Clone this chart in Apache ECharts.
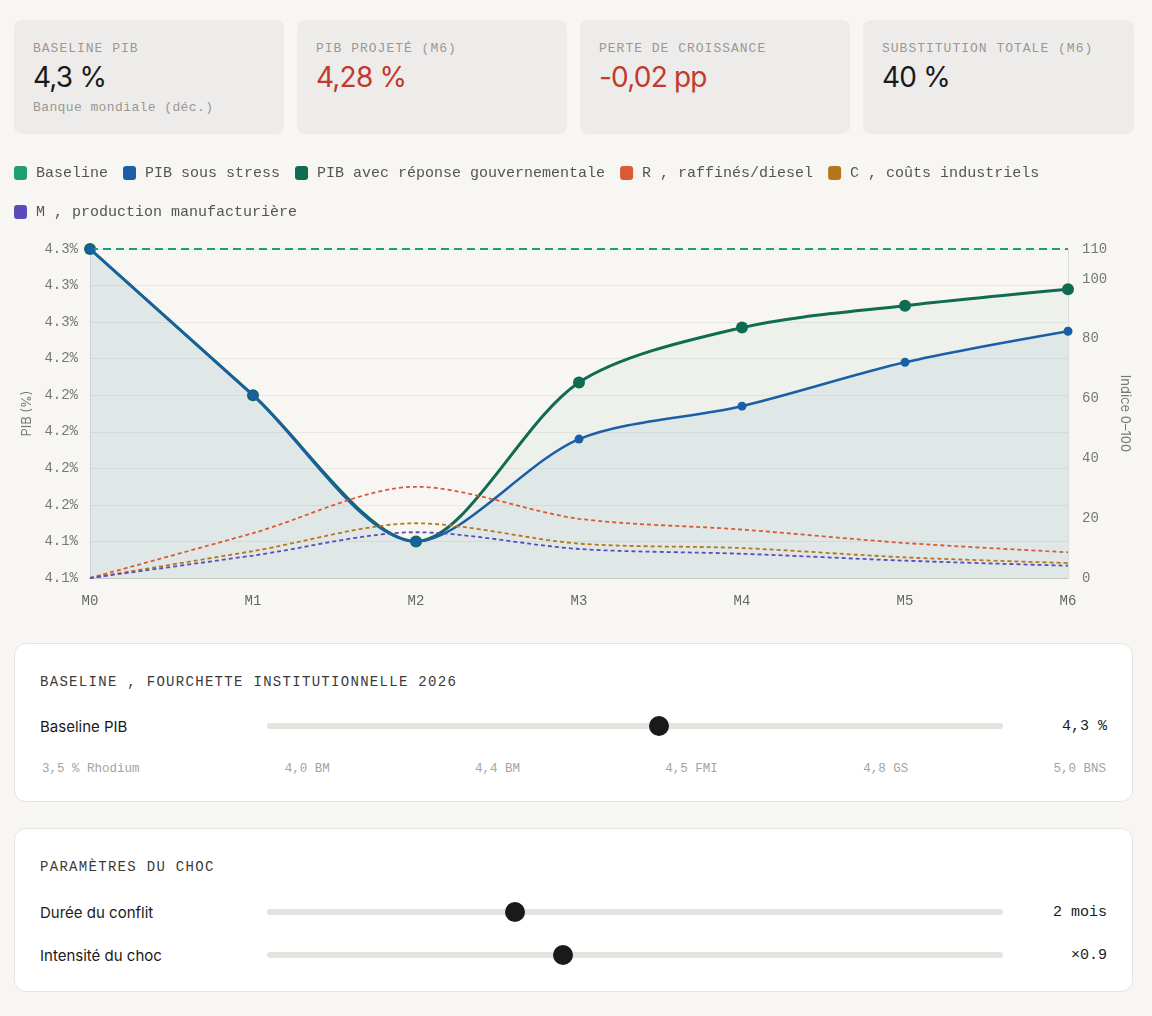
<!DOCTYPE html>
<html lang="fr">
<head>
<meta charset="utf-8">
<title>PIB sous stress</title>
<script src="https://cdn.jsdelivr.net/npm/echarts@6/dist/echarts.min.js"></script>
<style>
	html, body { margin: 0; padding: 0; }
	body {
		width: 1152px; height: 1016px; position: relative; overflow: hidden;
		background: #f7f6f2; color: #1a1a1a;
		font-family: Inter, "Noto Sans", sans-serif;
	}
	.mono { font-family: "Liberation Mono", "DejaVu Sans Mono", monospace; }
	.cards { position: absolute; top: 20px; left: 14px; display: flex; gap: 13px; }
	.card {
		width: 270px; height: 114px; box-sizing: border-box; padding: 21px 19px 0;
		background: #edecea; border-radius: 8px;
	}
	.card .lbl { font-size: 13px; line-height: 16px; letter-spacing: 1px; color: #9a9894; }
	.card .val { font-size: 28px; line-height: 32px; margin-top: 4px; letter-spacing: -0.8px; color: #1a1a1a; }
	.card .val.neg { color: #c2392d; }
	.card .sub { font-size: 13px; line-height: 16px; margin-top: 7px; letter-spacing: 0.4px; color: #9a9894; }
	#chartS { position: absolute; top: 150px; left: 0; width: 1152px; height: 480px; }
	.panel {
		position: absolute; left: 14px; width: 1119px; box-sizing: border-box;
		background: #fff; border: 1px solid #e6e4df; border-radius: 12px;
	}
	.panel .ttl {
		position: absolute; left: 25px; font-size: 14px; line-height: 18px;
		letter-spacing: 1.3px; color: #3a3a3a;
	}
	.row { position: absolute; left: 0; right: 0; height: 24px; }
	.row .name { position: absolute; left: 25px; top: 3px; font-size: 15px; line-height: 20px; color: #1a1a1a; }
	.row .track {
		position: absolute; left: 252px; width: 736px; top: 9px; height: 6px;
		background: #e4e3de; border-radius: 3px;
	}
	.row .thumb {
		position: absolute; top: 2px; width: 20px; height: 20px; margin-left: -10px;
		background: #1a1a1a; border-radius: 50%;
	}
	.row .out { position: absolute; right: 25px; top: 3px; font-size: 15px; line-height: 20px; color: #1a1a1a; }
	.ticks {
		position: absolute; left: 27px; right: 26px; display: flex; justify-content: space-between;
		font-size: 12.5px; line-height: 16px; color: #a5a39f;
	}
</style>
</head>
<body>

<div class="cards">
	<div class="card">
		<div class="lbl mono">BASELINE PIB</div>
		<div class="val">4,3 %</div>
		<div class="sub mono">Banque mondiale (déc.)</div>
	</div>
	<div class="card">
		<div class="lbl mono">PIB PROJETÉ (M6)</div>
		<div class="val neg">4,28 %</div>
	</div>
	<div class="card">
		<div class="lbl mono">PERTE DE CROISSANCE</div>
		<div class="val neg">-0,02 pp</div>
	</div>
	<div class="card" style="width:271px">
		<div class="lbl mono">SUBSTITUTION TOTALE (M6)</div>
		<div class="val">40 %</div>
	</div>
</div>

<div id="chartS"></div>

<div class="panel" style="top:643px;height:159px">
	<div class="ttl mono" style="top:29px">BASELINE , FOURCHETTE INSTITUTIONNELLE 2026</div>
	<div class="row" style="top:70px">
		<div class="name">Baseline PIB</div>
		<div class="track"></div>
		<div class="thumb" style="left:644px"></div>
		<div class="out mono">4,3 %</div>
	</div>
	<div class="ticks mono" style="top:117px">
		<span>3,5 % Rhodium</span><span>4,0 BM</span><span>4,4 BM</span><span>4,5 FMI</span><span>4,8 GS</span><span>5,0 BNS</span>
	</div>
</div>

<div class="panel" style="top:828px;height:164px">
	<div class="ttl mono" style="top:29px">PARAMÈTRES DU CHOC</div>
	<div class="row" style="top:71px">
		<div class="name">Durée du conflit</div>
		<div class="track"></div>
		<div class="thumb" style="left:500px"></div>
		<div class="out mono">2 mois</div>
	</div>
	<div class="row" style="top:114px">
		<div class="name">Intensité du choc</div>
		<div class="track"></div>
		<div class="thumb" style="left:548px"></div>
		<div class="out mono">×0.9</div>
	</div>
</div>

<script>
// ============================== données ==============================
var mois = ['M0', 'M1', 'M2', 'M3', 'M4', 'M5', 'M6'];
// PIB (%) - axe gauche
var baseline = [4.30, 4.30, 4.30, 4.30, 4.30, 4.30, 4.30];
var pibStress = [4.30, 4.22, 4.14, 4.196, 4.214, 4.238, 4.255];
var pibReponse = [4.30, 4.22, 4.14, 4.227, 4.257, 4.269, 4.278];
// indices 0-100 - axe droit
var raffines = [0, 15, 30.5, 19.8, 16.2, 11.7, 8.6];
var couts = [0, 9, 18.3, 11.5, 10, 6.9, 5];
var manuf = [0, 7.5, 15.3, 9.7, 8.1, 5.8, 4.1];

var MONO = '"Liberation Mono", "DejaVu Sans Mono", monospace';
var SANS = 'Inter, "Noto Sans", sans-serif';
var LISSAGE = 0.3;

var colors = {
	baseline: '#1f9e74',
	stress: '#1a5ea6',
	reponse: '#0f6b52',
	raffines: '#d95a34',
	couts: '#b8761a',
	manuf: '#5a4bbd'
};

// courbe pointillée sur l'axe droit
function dotted(name, data, color) {
	return {
		name: name,
		type: 'line',
		yAxisIndex: 1,
		data: data,
		smooth: LISSAGE,
		showSymbol: false,
		itemStyle: { color: color },
		lineStyle: { color: color, width: 1.8, type: [4, 3] },
		z: 5
	};
}

var myChart = echarts.init(document.getElementById('chartS'));
var option = {
	animation: false,
	legend: {
		left: 14,
		right: 14,
		top: 11,
		padding: 0,
		icon: 'roundRect',
		itemWidth: 13,
		itemHeight: 14,
		itemGap: 15,
		itemStyle: { borderWidth: 0 },
		textStyle: { fontFamily: MONO, fontSize: 15, color: '#555', lineHeight: 24, padding: [0, 0, 0, 4] },
		data: [
			'Baseline', 'PIB sous stress', 'PIB avec réponse gouvernementale',
			'R , raffinés/diesel', 'C , coûts industriels', 'M , production manufacturière'
		]
	},
	grid: { left: 90, right: 84, top: 99, bottom: 52 },
	xAxis: {
		type: 'category',
		boundaryGap: false,
		data: mois,
		axisLine: { lineStyle: { color: '#c4c6c6' } },
		axisTick: { show: false },
		axisLabel: { fontFamily: MONO, fontSize: 14, color: '#666', margin: 16 }
	},
	yAxis: [{
		type: 'value',
		min: 4.12,
		max: 4.30,
		interval: 0.02,
		name: 'PIB (%)',
		nameLocation: 'middle',
		nameRotate: 90,
		nameGap: 55,
		nameTextStyle: { fontFamily: SANS, fontSize: 13, color: '#777' },
		axisLine: { show: true, lineStyle: { color: '#dcdcda' } },
		axisTick: { show: false },
		axisLabel: {
			fontFamily: MONO, fontSize: 14, color: '#777', margin: 12,
			formatter: function (v) { return v.toFixed(1) + '%'; }
		},
		splitLine: { lineStyle: { color: '#e9e8e4' } }
	}, {
		type: 'value',
		min: 0,
		max: 110,
		interval: 20,
		position: 'right',
		name: 'Indice 0–100',
		nameLocation: 'middle',
		nameRotate: -90,
		nameGap: 46,
		nameTextStyle: { fontFamily: SANS, fontSize: 13, color: '#777' },
		axisLine: { show: true, lineStyle: { color: '#dcdcda' } },
		axisTick: { show: false },
		axisLabel: { fontFamily: MONO, fontSize: 14, color: '#777', margin: 14, showMaxLabel: true },
		splitLine: { show: false }
	}],
	series: [{
		name: 'Baseline',
		type: 'line',
		data: baseline,
		showSymbol: false,
		itemStyle: { color: colors.baseline },
		lineStyle: { color: colors.baseline, width: 2, type: [8, 5] },
		z: 3
	}, {
		name: 'PIB avec réponse gouvernementale',
		type: 'line',
		data: pibReponse,
		smooth: LISSAGE,
		symbol: 'circle',
		symbolSize: 12,
		itemStyle: { color: colors.reponse },
		lineStyle: { color: colors.reponse, width: 3 },
		areaStyle: { color: 'rgba(15,107,82,0.06)' },
		z: 2
	}, {
		name: 'PIB sous stress',
		type: 'line',
		data: pibStress,
		smooth: LISSAGE,
		symbol: 'circle',
		symbolSize: 9,
		itemStyle: { color: colors.stress },
		lineStyle: { color: colors.stress, width: 2.5 },
		areaStyle: { color: 'rgba(26,94,166,0.08)' },
		z: 3
	},
		dotted('R , raffinés/diesel', raffines, colors.raffines),
		dotted('C , coûts industriels', couts, colors.couts),
		dotted('M , production manufacturière', manuf, colors.manuf)
	]
};
myChart.setOption(option);
</script>
</body>
</html>
